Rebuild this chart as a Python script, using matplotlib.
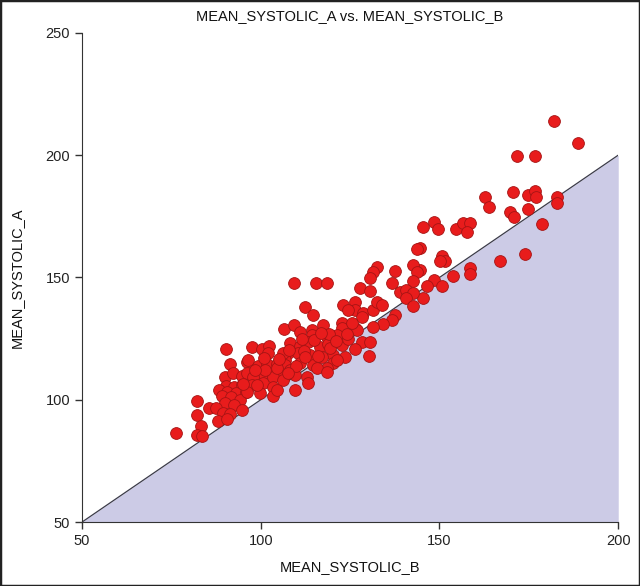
import matplotlib
matplotlib.use("Agg")
import matplotlib.pyplot as plt
from matplotlib.patches import Rectangle

plt.rcParams['font.family'] = ['Liberation Sans', 'DejaVu Sans']

# values (B on x, A on y)
systolic_b = [
    181.9, 188.8, 171.8, 176.8, 162.8, 163.9, 170.7, 174.9, 176.8, 177.1,
    169.8, 170.9, 174.9, 183.0, 183.0, 178.8, 173.8, 166.8,
    145.5, 148.6, 149.7, 154.7, 156.7, 158.4, 157.7, 144.6, 150.7, 151.6,
    150.2, 158.6, 158.6, 153.7, 144.6, 148.6, 146.5, 150.7, 145.5,
    143.7, 132.6, 131.5, 130.6, 137.6, 142.5, 143.8, 142.5, 136.7,
    127.8, 130.6, 139.0, 140.7, 142.7, 140.7, 142.5, 122.9, 126.4, 126.4,
    124.5, 128.7, 128.3, 131.5, 132.6, 133.9, 137.6, 136.7, 134.3, 131.5,
    126.4, 122.7,
    109.3, 115.5, 118.5, 112.4, 114.6, 117.5, 122.7, 126.9, 128.3, 130.6,
    126.4, 130.4, 123.6, 120.3, 106.5, 109.3, 111.0, 114.3, 114.3, 118.5,
    121.3, 108.2, 111.0, 113.3, 116.6, 118.9, 122.7, 107.7, 110.5, 113.8,
    117.1, 120.3, 106.8, 111.0, 114.7, 118.5,
    90.3, 97.5, 100.3, 102.4, 102.1, 91.4, 96.3, 99.3, 101.7, 104.5,
    106.8, 106.3, 90.0, 92.3, 94.7, 97.9, 100.7, 103.5, 105.9,
    90.3, 92.5, 94.7, 88.4, 90.5, 93.1, 95.9, 89.1, 91.6, 94.2,
    90.0, 92.5, 94.7, 82.3, 85.6, 87.5, 89.4, 91.4, 82.3, 88.1,
    90.5, 83.2, 76.3, 82.3, 83.5,
    96.5, 96.1, 97.9, 97.5, 96.1, 100.7, 103.5, 101.2, 104.5, 108.2,
    109.6, 106.3, 103.5, 99.8, 103.5, 109.6, 112.9, 115.7, 118.5, 113.3,
    121.3, 104.5,
    108.0, 112.0, 116.0, 119.5, 124.5, 111.5, 115.0, 119.0, 105.0, 101.0,
    98.5, 112.5, 117.0, 121.0, 124.0, 110.0, 107.5, 99.0, 95.0, 125.5,
]
systolic_a = [
    214.0, 204.9, 199.8, 199.8, 182.8, 178.7, 185.0, 183.9, 185.3, 182.8,
    176.9, 174.9, 177.9, 182.8, 180.6, 171.8, 159.7, 156.7,
    170.8, 172.8, 169.7, 169.7, 172.2, 172.2, 168.5, 161.9, 158.8, 156.9,
    156.9, 153.8, 151.4, 150.6, 153.1, 149.0, 146.5, 146.5, 141.5,
    161.6, 154.2, 152.4, 149.7, 152.8, 155.1, 152.4, 148.7, 147.6,
    145.6, 144.6, 144.2, 144.9, 143.8, 141.5, 138.3, 138.8, 140.1, 136.7,
    136.7, 135.4, 133.7, 136.7, 140.1, 138.8, 134.7, 132.6, 131.0, 129.9,
    129.2, 131.3,
    147.6, 147.6, 147.6, 137.8, 134.7, 130.6, 129.2, 128.5, 123.7, 123.7,
    120.6, 117.9, 117.4, 118.3, 128.8, 130.6, 127.8, 128.5, 126.5, 125.8,
    126.5, 123.1, 122.0, 123.7, 121.4, 122.8, 122.4, 119.2, 119.2, 118.3,
    117.4, 114.9, 116.3, 115.2, 114.2, 112.9,
    120.6, 121.7, 120.6, 122.0, 119.0, 114.6, 115.6, 113.8, 114.6, 114.6,
    114.2, 119.0, 109.2, 110.8, 109.7, 109.7, 110.5, 110.5, 109.2,
    105.6, 105.3, 106.0, 104.0, 103.3, 102.6, 103.3, 101.5, 101.0, 99.9,
    98.5, 97.9, 95.8, 99.6, 96.5, 96.5, 94.5, 94.2, 93.8, 91.4,
    92.0, 89.3, 86.5, 85.6, 85.2,
    116.3, 110.8, 109.4, 106.0, 103.3, 106.7, 109.4, 112.2, 112.9, 112.2,
    110.1, 108.1, 105.3, 102.9, 101.5, 104.0, 109.4, 112.9, 111.5, 106.7,
    116.3, 104.0,
    120.5, 120.0, 118.0, 121.0, 125.0, 125.0, 124.5, 127.0, 116.5, 117.0,
    112.0, 117.5, 127.5, 124.0, 127.0, 114.0, 111.0, 106.0, 106.5, 131.5,
]

x_ticks = [50, 100, 150, 200]
y_ticks = [50, 100, 150, 200, 250]
identity = [50, 200]

fig = plt.figure(figsize=(6.4, 5.86), dpi=100)
ax = fig.add_axes([0.128, 0.109, 0.838, 0.835])

# shaded region below the line of identity
ax.fill_between(identity, identity, [50, 50], color='#cccbe6', lw=0, zorder=1)
ax.plot(identity, identity, color='#3a3a48', lw=0.9, zorder=2)

ax.scatter(systolic_b, systolic_a, s=72, c='#e81c1c', edgecolors='#a51414',
           linewidths=0.6, zorder=3)

ax.set_xlim(50, 200)
ax.set_ylim(50, 250)
ax.set_xticks(x_ticks)
ax.set_yticks(y_ticks)
ax.tick_params(direction='out', length=5, width=1, colors='#333333',
               labelsize=10.5, labelcolor='#222222')
ax.spines['right'].set_visible(False)
ax.spines['top'].set_visible(False)
ax.spines['left'].set_color('#333333')
ax.spines['bottom'].set_color('#333333')

ax.set_title('MEAN_SYSTOLIC_A vs. MEAN_SYSTOLIC_B', fontsize=10.5, pad=9, color='#111111')
ax.set_xlabel('MEAN_SYSTOLIC_B', fontsize=10.5, labelpad=9, color='#111111')
ax.set_ylabel('MEAN_SYSTOLIC_A', fontsize=10.5, labelpad=16, color='#111111')

# frame round the whole figure
fig.patches.append(Rectangle((0, 0), 1, 1, transform=fig.transFigure, fill=False,
                             ec='#222222', lw=2.5))

fig.savefig('out.png', dpi=100)
